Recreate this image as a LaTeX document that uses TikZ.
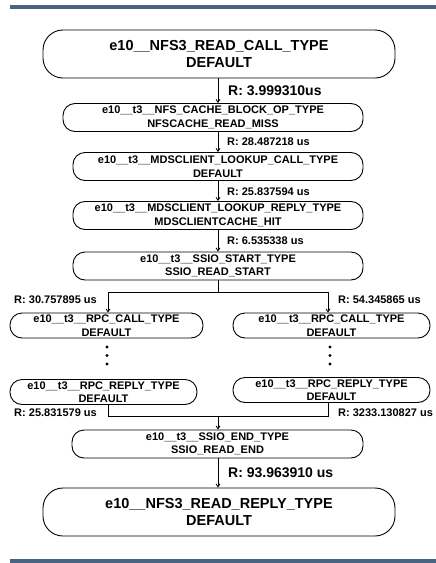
\documentclass[tikz,border=0pt]{standalone}
\usepackage{fontspec}
\setmainfont{Liberation Sans}
\usetikzlibrary{arrows.meta}
\definecolor{barblue}{RGB}{72,100,130}
\begin{document}
\begin{tikzpicture}[x=1pt,y=-1pt,
  bignode/.style={draw=black,line width=0.9pt,rounded corners=20pt,minimum width=352pt,minimum height=48pt,inner sep=0pt,align=center,font=\fontsize{14.5}{17}\selectfont\bfseries},
  midnode/.style={draw=black,line width=0.9pt,rounded corners=12pt,minimum height=28pt,inner sep=0pt,align=center,font=\fontsize{11}{13.5}\selectfont\bfseries},
  biglabel/.style={anchor=west,inner sep=0pt,font=\fontsize{14}{16}\selectfont\bfseries},
  smalllabel/.style={inner sep=0pt,font=\fontsize{11}{13}\selectfont\bfseries},
  arr/.style={line width=0.8pt,-{Straight Barb[length=3pt,width=4pt]}},
  ln/.style={line width=0.8pt},
  bar/.style={fill=barblue,draw=none}]
\useasboundingbox (0,0) rectangle (436,563);
\fill[bar] (10,5) rectangle (436,9);
\fill[bar] (10,559) rectangle (436,563);

\node[bignode] (n1) at (219,54) {e10\_\_NFS3\_READ\_CALL\_TYPE\\DEFAULT};
\node[midnode,minimum width=300pt] (n2) at (213,117.5) {e10\_\_t3\_\_NFS\_CACHE\_BLOCK\_OP\_TYPE\\NFSCACHE\_READ\_MISS};
\node[midnode,minimum width=290pt] (n3) at (218,166.5) {e10\_\_t3\_\_MDSCLIENT\_LOOKUP\_CALL\_TYPE\\DEFAULT};
\node[midnode,minimum width=290pt] (n4) at (218,215.5) {e10\_\_t3\_\_MDSCLIENT\_LOOKUP\_REPLY\_TYPE\\MDSCLIENTCACHE\_HIT};
\node[midnode,minimum width=290pt] (n5) at (218,266) {e10\_\_t3\_\_SSIO\_START\_TYPE\\SSIO\_READ\_START};

\node[midnode,minimum width=193pt,minimum height=25pt] (lc) at (106.5,325.5) {e10\_\_t3\_\_RPC\_CALL\_TYPE\\DEFAULT};
\node[midnode,minimum width=187pt,minimum height=25pt] (lr) at (103.5,392) {e10\_\_t3\_\_RPC\_REPLY\_TYPE\\DEFAULT};
\node[midnode,minimum width=197pt,minimum height=25pt] (rc) at (331.5,325.5) {e10\_\_t3\_\_RPC\_CALL\_TYPE\\DEFAULT};
\node[midnode,minimum width=197pt,minimum height=25pt] (rr) at (331.5,390) {e10\_\_t3\_\_RPC\_REPLY\_TYPE\\DEFAULT};

\node[midnode,minimum width=291pt] (n6) at (217.5,444) {e10\_\_t3\_\_SSIO\_END\_TYPE\\SSIO\_READ\_END};
\node[bignode] (n7) at (219,512) {e10\_\_NFS3\_READ\_REPLY\_TYPE\\DEFAULT};

% main chain
\draw[arr] (n1.south -| 218,0) -- (n2.north -| 218,0);
\node[biglabel] (l1) at (228,91) {R: 3.999310us};
\draw[arr] (n2.south -| 218,0) -- (n3.north -| 218,0);
\node[smalllabel,anchor=west] (l2) at (227,142) {R: 28.487218 us};
\draw[arr] (n3.south -| 218,0) -- (n4.north -| 218,0);
\node[smalllabel,anchor=west] (l3) at (227,191.5) {R: 25.837594 us};
\draw[arr] (n4.south -| 218,0) -- (n5.north -| 218,0);
\node[smalllabel,anchor=west] (l4) at (227,240.5) {R: 6.535338 us};

% branch
\coordinate (bm) at (218,292);
\coordinate (bl) at (108,292);
\coordinate (br) at (328,292);
\draw[ln] (n5.south -| bm) -- (bm);
\draw[ln] (bl) -- (br);
\draw[arr] (bl) -- (bl |- lc.north);
\draw[arr] (br) -- (br |- rc.north);
\node[smalllabel,anchor=east] (l5) at (97,300) {R: 30.757895 us};
\node[smalllabel,anchor=west] (l6) at (338,300) {R: 54.345865 us};

% dots
\foreach \yy in {347,355.5,364}{
  \fill (107,\yy) circle (1.6pt);
  \fill (330,\yy) circle (1.6pt);
}

% join
\coordinate (jm) at (218,416);
\coordinate (jl) at (108,416);
\coordinate (jr) at (328,416);
\draw[ln] (lr.south -| jl) -- (jl) -- (jr) -- (rr.south -| jr);
\draw[arr] (jm) -- (n6.north -| jm);
\node[smalllabel,anchor=east] (l7) at (97,413) {R: 25.831579 us};
\node[smalllabel,anchor=west] (l8) at (338,413) {R: 3233.130827 us};

\draw[arr] (n6.south -| 218,0) -- (n7.north -| 218,0);
\node[biglabel] (l9) at (228,473) {R: 93.963910 us};
\end{tikzpicture}
\end{document}
